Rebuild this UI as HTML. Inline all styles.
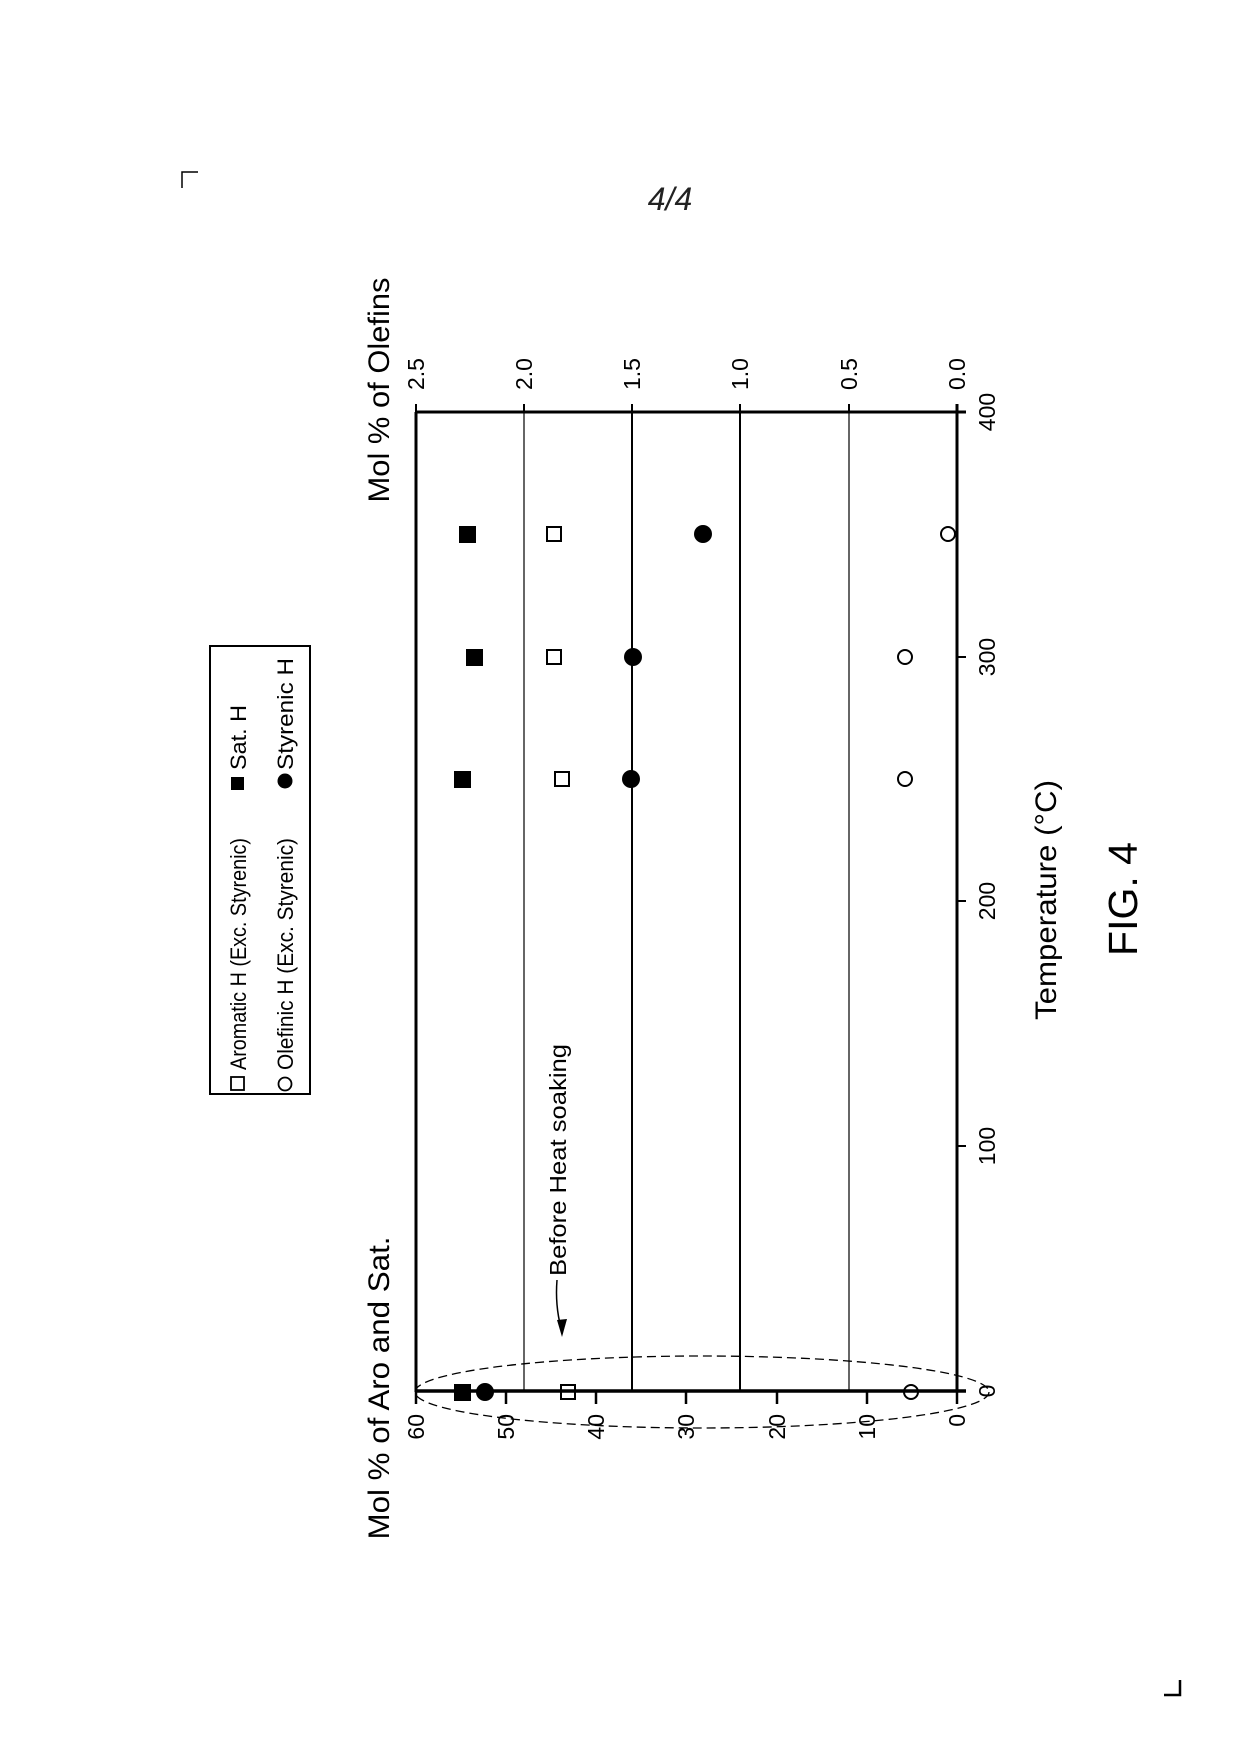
<!DOCTYPE html>
<html><head><meta charset="utf-8"><style>html,body{margin:0;padding:0;background:#fff}svg{display:block}</style></head>
<body>
<svg width="1240" height="1753" viewBox="0 0 1240 1753" xmlns="http://www.w3.org/2000/svg" font-family="Liberation Sans, Arial, sans-serif" fill="#000">
<path d="M182 188 V172 H198" stroke="#000" stroke-width="1.5" fill="none"/>
<path d="M1180 1680 V1695 H1164" stroke="#000" stroke-width="2.5" fill="none"/>
<text x="670" y="210" font-size="32" font-style="italic" text-anchor="middle" font-weight="normal" fill="#222">4/4</text>

<rect x="210" y="646" width="100" height="448" fill="none" stroke="#000" stroke-width="2"/>
<g font-size="22">
<rect x="231" y="1077" width="13" height="13" fill="none" stroke="#000" stroke-width="1.8"/>
<text transform="translate(246,1070) rotate(-90)" textLength="232" lengthAdjust="spacingAndGlyphs">Aromatic H (Exc. Styrenic)</text>
<rect x="231" y="777" width="13" height="13"/>
<text transform="translate(246,770) rotate(-90)" textLength="65" lengthAdjust="spacingAndGlyphs">Sat. H</text>
<circle cx="285" cy="1084" r="6.5" fill="none" stroke="#000" stroke-width="1.8"/>
<text transform="translate(293,1070) rotate(-90)" textLength="232" lengthAdjust="spacingAndGlyphs">Olefinic H (Exc. Styrenic)</text>
<circle cx="285" cy="781" r="7.5"/>
<text transform="translate(293,770) rotate(-90)" textLength="112" lengthAdjust="spacingAndGlyphs">Styrenic H</text>
</g>

<text transform="translate(389,390) rotate(-90)" font-size="30" text-anchor="middle" textLength="225" lengthAdjust="spacingAndGlyphs">Mol % of Olefins</text>
<text transform="translate(389,1388) rotate(-90)" font-size="30" text-anchor="middle" textLength="303" lengthAdjust="spacingAndGlyphs">Mol % of Aro and Sat.</text>
<text transform="translate(1056,900) rotate(-90)" font-size="30" text-anchor="middle" textLength="240" lengthAdjust="spacingAndGlyphs">Temperature (°C)</text>
<text transform="translate(1137,899) rotate(-90)" font-size="41" text-anchor="middle">FIG. 4</text>

<g stroke="#000" fill="none">
<line x1="524" y1="412" x2="524" y2="1391" stroke-width="1.2"/>
<line x1="849" y1="412" x2="849" y2="1391" stroke-width="1.2"/>
<line x1="632" y1="412" x2="632" y2="1391" stroke-width="2"/>
<line x1="740" y1="412" x2="740" y2="1391" stroke-width="2"/>
<line x1="416" y1="412" x2="416" y2="1392" stroke-width="3"/>
<line x1="957" y1="404" x2="957" y2="1392" stroke-width="3"/>
<line x1="415" y1="412" x2="966" y2="412" stroke-width="3"/>
<line x1="415" y1="1391" x2="966" y2="1391" stroke-width="3.5"/>
<path d="M416 412V404 M524 412V404 M632 412V404 M740 412V404 M849 412V404 M957 412V404" stroke-width="2"/>
<path d="M416 1391V1404 M506 1391V1404 M596 1391V1404 M686 1391V1404 M777 1391V1404 M867 1391V1404 M957 1391V1404" stroke-width="2.5"/>
<path d="M957 412H966 M957 657H966 M957 901H966 M957 1146H966 M957 1391H966" stroke-width="2"/>
<ellipse cx="702" cy="1392" rx="287" ry="36" stroke-width="1.3" stroke-dasharray="9,5"/>
<path d="M557 1280 Q555 1305 561 1328" stroke-width="1.5"/>
</g>
<path d="M557 1320 L567 1319 L562 1337 Z"/>

<g font-size="23" text-anchor="start">
<text transform="translate(424,390) rotate(-90)">2.5</text>
<text transform="translate(532,390) rotate(-90)">2.0</text>
<text transform="translate(640,390) rotate(-90)">1.5</text>
<text transform="translate(748,390) rotate(-90)">1.0</text>
<text transform="translate(857,390) rotate(-90)">0.5</text>
<text transform="translate(965,390) rotate(-90)">0.0</text>
</g>
<g font-size="23" text-anchor="end">
<text transform="translate(424,1414) rotate(-90)">60</text>
<text transform="translate(514,1414) rotate(-90)">50</text>
<text transform="translate(604,1414) rotate(-90)">40</text>
<text transform="translate(694,1414) rotate(-90)">30</text>
<text transform="translate(785,1414) rotate(-90)">20</text>
<text transform="translate(875,1414) rotate(-90)">10</text>
<text transform="translate(965,1414) rotate(-90)">0</text>
</g>
<g font-size="23" text-anchor="middle">
<text transform="translate(995,412) rotate(-90)">400</text>
<text transform="translate(995,657) rotate(-90)">300</text>
<text transform="translate(995,901) rotate(-90)">200</text>
<text transform="translate(995,1146) rotate(-90)">100</text>
<text transform="translate(995,1391) rotate(-90)">0</text>
</g>
<text transform="translate(566,1276) rotate(-90)" font-size="23" textLength="232" lengthAdjust="spacingAndGlyphs">Before Heat soaking</text>

<g>
<rect x="459" y="526" width="17" height="17"/>
<rect x="466" y="649" width="17" height="17"/>
<rect x="454" y="771" width="17" height="17"/>
<rect x="454" y="1384" width="17" height="17"/>
<circle cx="703" cy="534" r="9"/>
<circle cx="633" cy="657" r="9"/>
<circle cx="631" cy="779" r="9"/>
<circle cx="485" cy="1392" r="9"/>
</g>
<g fill="none" stroke="#000" stroke-width="2">
<rect x="547" y="527" width="14" height="14"/>
<rect x="547" y="650" width="14" height="14"/>
<rect x="555" y="772" width="14" height="14"/>
<rect x="561" y="1385" width="14" height="14"/>
<circle cx="948" cy="534" r="7"/>
<circle cx="905" cy="657" r="7"/>
<circle cx="905" cy="779" r="7"/>
<circle cx="911" cy="1392" r="7"/>
</g>
</svg>
</body></html>
